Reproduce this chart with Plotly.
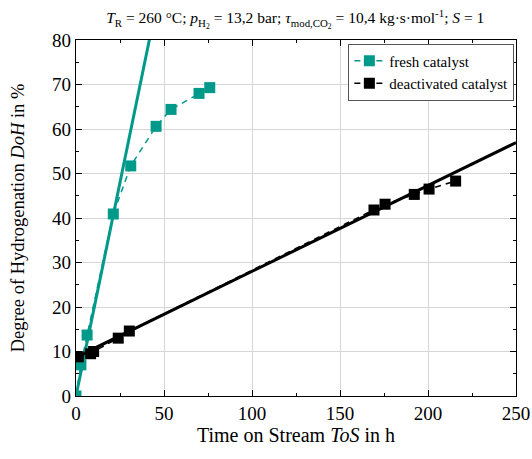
import plotly.graph_objects as go

fresh_tos = [0, 2.8, 6.3, 21.2, 31.1, 45.5, 54, 69.9, 76]
fresh_doh = [0, 7.0, 13.7, 40.9, 51.7, 60.6, 64.4, 68.0, 69.3]
deact_tos = [1.3, 8.3, 10, 24, 30.3, 169.3, 175.6, 192.2, 200.6, 215.7]
deact_doh = [8.8, 9.5, 10.0, 13.0, 14.6, 41.8, 43.1, 45.3, 46.5, 48.3]

fit_fresh_x = [0, 50]
fit_fresh_slope = 1.92
fit_deact_x = [0, 250]
fit_deact_icpt = 8.7
fit_deact_slope = 0.193

teal = "#00998A"
font = "Liberation Serif"

W, H = 532, 459

fig = go.Figure()
fig.add_trace(go.Scatter(x=fit_fresh_x, y=[fit_fresh_slope * v for v in fit_fresh_x],
                         mode="lines", line=dict(color=teal, width=3), showlegend=False,
                         hoverinfo="skip"))
fig.add_trace(go.Scatter(x=fit_deact_x, y=[fit_deact_icpt + fit_deact_slope * v for v in fit_deact_x],
                         mode="lines", line=dict(color="black", width=3), showlegend=False,
                         hoverinfo="skip"))
fig.add_trace(go.Scatter(x=fresh_tos, y=fresh_doh, mode="lines+markers", name="fresh catalyst",
                         line=dict(color=teal, width=1.5, dash="6px,5px"),
                         marker=dict(symbol="square", size=11, color=teal)))
fig.add_trace(go.Scatter(x=deact_tos, y=deact_doh, mode="lines+markers", name="deactivated catalyst",
                         line=dict(color="black", width=1.5, dash="6px,5px"),
                         marker=dict(symbol="square", size=11, color="black")))

axis_common = dict(showline=True, linecolor="black", linewidth=1.2, mirror="allticks",
                   ticks="inside", ticklen=6, tickcolor="black", showgrid=True,
                   gridcolor="#d6d6d6", gridwidth=1, zeroline=False, automargin=False,
                   tickfont=dict(family=font, size=19, color="black"))
fig.update_xaxes(range=[0, 250], dtick=50,
                 minor=dict(dtick=25, ticks="inside", ticklen=3, tickcolor="black", showgrid=False),
                 title=dict(text="Time on Stream <i>ToS</i> in h", font=dict(family=font, size=20, color="black"),
                            standoff=3),
                 **axis_common)
fig.update_yaxes(range=[0, 80], dtick=10,
                 minor=dict(dtick=5, ticks="inside", ticklen=3, tickcolor="black", showgrid=False),
                 title=dict(text="Degree of Hydrogenation <i>DoH</i> in %", font=dict(family=font, size=18.5, color="black"),
                            standoff=22),
                 **axis_common)

fig.update_layout(
    width=W, height=H,
    margin=dict(l=76, r=16, t=40, b=63),
    paper_bgcolor="white", plot_bgcolor="white",
    font=dict(family=font, color="black"),
    title=dict(text="<i>T</i><sub>R</sub> = 260 °C; <i>p</i><sub>H<sub>2</sub></sub> = 13,2 bar; "
                    "<i>τ</i><sub>mod,CO<sub>2</sub></sub> = 10,4 kg·s·mol<sup>-1</sup>; <i>S</i> = 1",
               font=dict(family=font, size=15.5, color="black"), x=0.555, xanchor="center",
               y=1 - 18 / H, yanchor="middle"),
    legend=dict(x=0.619, y=0.99, xanchor="left", yanchor="top", bgcolor="white",
                bordercolor="#555", borderwidth=1, font=dict(family=font, size=15, color="black"),
                tracegroupgap=0, itemwidth=30),
)

fig.write_html("out.html", config={"displayModeBar": False},
               post_script="document.body.style.margin='0';document.body.style.overflow='hidden';")
